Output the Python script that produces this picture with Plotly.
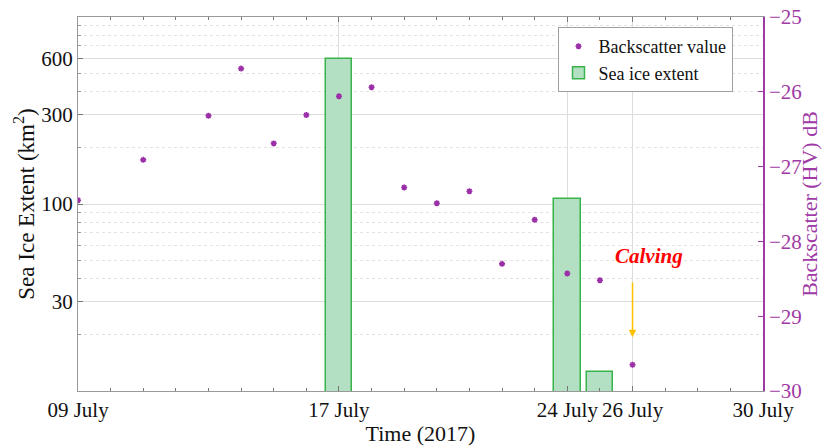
import plotly.graph_objects as go

# Backscatter (HV) dB, right axis
bs_dates = ["2017-07-09", "2017-07-11", "2017-07-13", "2017-07-14", "2017-07-15",
            "2017-07-16", "2017-07-17", "2017-07-18", "2017-07-19", "2017-07-20",
            "2017-07-21", "2017-07-22", "2017-07-23", "2017-07-24", "2017-07-25",
            "2017-07-26"]
bs_values = [-27.45, -26.91, -26.32, -25.69, -26.69, -26.31, -26.06, -25.94, -27.28,
             -27.49, -27.33, -28.30, -27.71, -28.43, -28.52, -29.65]

# Sea ice extent km^2, left axis (log)
ice_dates = ["2017-07-17", "2017-07-24", "2017-07-25"]
ice_values = [595, 106, 12.7]

tick_dates = ["2017-07-09", "2017-07-17", "2017-07-24", "2017-07-26", "2017-07-30"]
tick_text = ["09 July", "17 July", "24 July", "26 July", "30 July"]

y_major = [30, 100, 300, 600]
y_minor = [20, 40, 50, 60, 70, 80, 90, 200, 400, 500, 700, 800, 900]

PURPLE = "#a03aa6"
FONT = "Liberation Serif"
DAY_MS = 86400000

fig = go.Figure()
fig.add_trace(go.Bar(
    x=ice_dates, y=ice_values, name="Sea ice extent",
    width=0.82 * DAY_MS,
    marker=dict(color="#b3dfc3", line=dict(color="#38b44a", width=1.5)),
    yaxis="y",
))
fig.add_trace(go.Scatter(
    x=bs_dates, y=bs_values, name="Backscatter value", mode="markers",
    marker=dict(symbol="asterisk", size=5, color="#9a2fa8",
                line=dict(color="#9a2fa8", width=1.6)),
    yaxis="y2",
))

fig.add_annotation(x="2017-07-26", y=-29.28, ax="2017-07-26", ay=-28.53,
                   xref="x", yref="y2", axref="x", ayref="y2",
                   text="", showarrow=True, arrowhead=2, arrowsize=1,
                   arrowwidth=1.5, arrowcolor="#ffc000")
fig.add_annotation(x="2017-07-26 12:00", y=-28.2, xref="x", yref="y2",
                   text="<b><i>Calving</i></b>", showarrow=False,
                   font=dict(family=FONT, size=21, color="#ff0000"))

fig.update_layout(
    width=822, height=446,
    margin=dict(l=78, r=59, t=17, b=55),
    plot_bgcolor="white", paper_bgcolor="white",
    font=dict(family=FONT, size=21, color="#111111"),
    showlegend=True,
    legend=dict(x=0.70, y=0.973, xanchor="left", yanchor="top",
                bgcolor="white", bordercolor="#a0a0a0", borderwidth=1,
                font=dict(family=FONT, size=18), traceorder="reversed",
                tracegroupgap=0, itemwidth=30),
    bargap=0,
    xaxis=dict(
        type="date", range=["2017-07-09", "2017-07-30"], automargin=False,
        tickvals=tick_dates, ticktext=tick_text,
        ticks="inside", ticklen=5, tickcolor="#777777",
        showline=True, linecolor="#999999", linewidth=1, mirror="ticks",
        showgrid=True, gridcolor="#dddddd", gridwidth=1,
        zeroline=False,
        minor=dict(dtick=DAY_MS, ticks="inside", ticklen=3, tickcolor="#777777",
                   showgrid=False),
        title=dict(text="Time (2017)", font=dict(size=22), standoff=2),
    ),
    yaxis=dict(
        type="log", range=[1, 3], automargin=False,
        tickvals=y_major, ticktext=[str(v) for v in y_major],
        ticks="inside", ticklen=5, tickcolor="#777777",
        showline=True, linecolor="#999999", linewidth=1,
        showgrid=True, gridcolor="#dddddd", gridwidth=1,
        minor=dict(tickvals=y_minor, ticks="inside", ticklen=3, tickcolor="#999999",
                   showgrid=True, gridcolor="#e2e2e2", griddash="dot", gridwidth=1),
        title=dict(text="Sea Ice Extent (km<sup>2</sup>)", font=dict(size=23), standoff=0),
    ),
    yaxis2=dict(
        overlaying="y", side="right", range=[-30, -25], automargin=False,
        tickvals=[-30, -29, -28, -27, -26, -25],
        ticks="inside", ticklen=5, tickcolor=PURPLE,
        showline=True, linecolor=PURPLE, linewidth=1.5,
        showgrid=False, zeroline=False,
        tickfont=dict(color=PURPLE, size=21),
        title=dict(text="Backscatter (HV) dB", font=dict(color=PURPLE, size=22), standoff=6),
    ),
)

fig.write_html("out.html", config={"displayModeBar": False},
               post_script="document.body.style.margin='0px';")
